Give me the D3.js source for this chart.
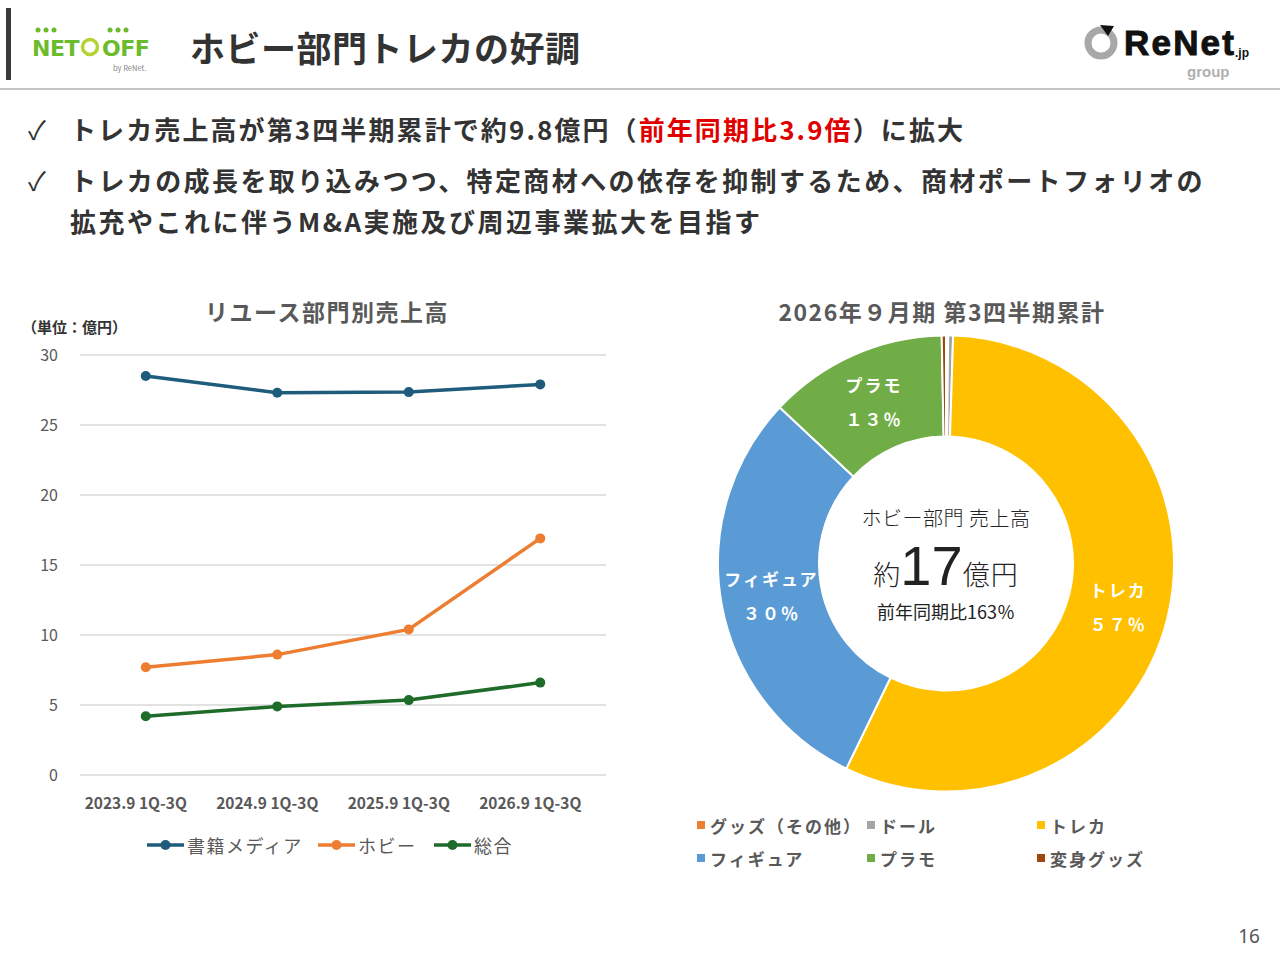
<!DOCTYPE html>
<html>
<head>
<meta charset="utf-8">
<script src="https://cdn.jsdelivr.net/npm/d3@7"></script>
<style>
  body { margin: 0; background: #fff; }
  svg { display: block; font-family: "Noto Sans CJK JP", "Noto Sans", sans-serif; }
</style>
</head>
<body>
<div id="chart"></div>
<script>
// line chart data (億円)
var categories = ["2023.9 1Q-3Q", "2024.9 1Q-3Q", "2025.9 1Q-3Q", "2026.9 1Q-3Q"];
var bookMedia = [28.5, 27.3, 27.35, 27.9];
var hobby = [7.7, 8.6, 10.4, 16.9];
var total = [4.2, 4.9, 5.35, 6.6];
var seriesNames = ["書籍メディア", "ホビー", "総合"];
var yTicks = [0, 5, 10, 15, 20, 25, 30];

// donut data (%)
var pieLabels = ["グッズ（その他）", "ドール", "トレカ", "フィギュア", "プラモ", "変身グッズ"];
var pieValues = [0.15, 0.35, 56.7, 29.8, 12.7, 0.3];

var lineColors = ["#1f5c7c", "#ed7d31", "#1e6b2a"];
var pieColors = ["#ed7d31", "#a5a5a5", "#ffc000", "#5b9bd5", "#70ad47", "#9e480e"];

var svg = d3.select("#chart").append("svg")
  .attr("width", 1280)
  .attr("height", 960);

/** header **/
svg.append("rect").attr("x", 6).attr("y", 8).attr("width", 5).attr("height", 72).attr("fill", "#3a3a3a");
svg.append("line").attr("x1", 0).attr("x2", 1280).attr("y1", 89).attr("y2", 89)
  .attr("stroke", "#b0b0b0").attr("stroke-width", 1.5);

// NET OFF logo (rough)
var logo = svg.append("g");
logo.append("text").attr("x", 32).attr("y", 56).text("NET")
  .attr("font-size", 22).attr("font-weight", 900).attr("fill", "#6cbb2d")
  .attr("font-family", "'DejaVu Sans', sans-serif").attr("letter-spacing", -0.5);
logo.append("circle").attr("cx", 90).attr("cy", 47).attr("r", 7.5)
  .attr("fill", "none").attr("stroke", "#b5d334").attr("stroke-width", 3.5);
logo.append("text").attr("x", 102).attr("y", 56).text("OFF")
  .attr("font-size", 22).attr("font-weight", 900).attr("fill", "#6cbb2d")
  .attr("font-family", "'DejaVu Sans', sans-serif").attr("letter-spacing", -0.5);
[38, 46, 54, 110, 118, 126].forEach(function(x) {
  logo.append("circle").attr("cx", x).attr("cy", 30).attr("r", 2.5).attr("fill", "#6cbb2d");
});
logo.append("text").attr("x", 113).attr("y", 71).text("by ReNet.")
  .attr("font-size", 7.5).attr("fill", "#888");

svg.append("text").attr("x", 190).attr("y", 46).attr("dominant-baseline", "central")
  .attr("font-size", 35).attr("font-weight", 700).attr("fill", "#333")
  .attr("letter-spacing", 0.5)
  .text("ホビー部門トレカの好調");

// ReNet logo (rough)
var rn = svg.append("g");
rn.append("circle").attr("cx", 1101).attr("cy", 43).attr("r", 13)
  .attr("fill", "none").attr("stroke", "#a8a8a8").attr("stroke-width", 7);
rn.append("path").attr("d", "M1100,25 L1114,26 L1108,36 Z").attr("fill", "#111");
rn.append("text").attr("x", 1124).attr("y", 55).text("ReNet")
  .attr("font-size", 35).attr("font-weight", 700).attr("fill", "#111")
  .attr("font-family", "'Liberation Sans', sans-serif").attr("letter-spacing", 2.2)
  .attr("stroke", "#111").attr("stroke-width", 1);
rn.append("text").attr("x", 1235).attr("y", 57).text(".jp")
  .attr("font-size", 12).attr("font-weight", 700).attr("fill", "#111")
  .attr("font-family", "'Liberation Sans', sans-serif");
rn.append("text").attr("x", 1187).attr("y", 77).text("group")
  .attr("font-size", 15).attr("font-weight", 700).attr("fill", "#b0b0b0")
  .attr("font-family", "'Liberation Sans', sans-serif");

/** bullets **/
var bullets = svg.append("g").attr("font-size", 26).attr("font-weight", 700).attr("fill", "#333");
bullets.append("text").attr("x", 28).attr("y", 128).attr("dominant-baseline", "central")
  .attr("font-weight", 400).text("✓");
bullets.append("text").attr("x", 28).attr("y", 179).attr("dominant-baseline", "central")
  .attr("font-weight", 400).text("✓");
var b1 = bullets.append("text").attr("x", 70).attr("y", 128).attr("dominant-baseline", "central")
  .attr("letter-spacing", 2.1);
b1.append("tspan").text("トレカ売上高が第3四半期累計で約9.8億円（");
b1.append("tspan").attr("fill", "#e00000").text("前年同期比3.9倍");
b1.append("tspan").text("）に拡大");
bullets.append("text").attr("x", 70).attr("y", 179).attr("dominant-baseline", "central")
  .attr("letter-spacing", 2.4)
  .text("トレカの成長を取り込みつつ、特定商材への依存を抑制するため、商材ポートフォリオの");
bullets.append("text").attr("x", 70).attr("y", 220).attr("dominant-baseline", "central")
  .attr("letter-spacing", 2.5)
  .text("拡充やこれに伴うM&A実施及び周辺事業拡大を目指す");

/** line chart **/
var lc = svg.append("g");
lc.append("text").attr("x", 327).attr("y", 311).attr("dominant-baseline", "central")
  .attr("text-anchor", "middle").attr("font-size", 23).attr("font-weight", 700)
  .attr("fill", "#595959").attr("letter-spacing", 1.5).text("リユース部門別売上高");
lc.append("text").attr("x", 22).attr("y", 326).attr("dominant-baseline", "central")
  .attr("font-size", 15).attr("font-weight", 700).attr("fill", "#333").text("（単位：億円）");

var x = d3.scaleBand().domain(categories).range([80, 606]);
var y = d3.scaleLinear().domain([0, 30]).range([775, 355]);

lc.append("g").selectAll("line").data(yTicks).enter().append("line")
  .attr("x1", 80).attr("x2", 606)
  .attr("y1", function(d) { return y(d); }).attr("y2", function(d) { return y(d); })
  .attr("stroke", "#d9d9d9").attr("stroke-width", 1.3);

var yAxis = lc.append("g").attr("transform", "translate(62,0)")
  .call(d3.axisLeft(y).tickValues(yTicks).tickSize(0).tickPadding(4));
yAxis.select(".domain").remove();
yAxis.selectAll("text").attr("font-size", 16).attr("fill", "#595959")
  .attr("font-family", "'Noto Sans CJK JP', sans-serif");

var xAxis = lc.append("g").attr("transform", "translate(0,804)")
  .call(d3.axisBottom(x).tickSize(0).tickPadding(0));
xAxis.select(".domain").remove();
xAxis.selectAll("text").attr("font-size", 15.5).attr("font-weight", 700).attr("fill", "#595959")
  .attr("dy", "0.35em").attr("dx", -10)
  .attr("font-family", "'Noto Sans CJK JP', sans-serif");

var allSeries = [bookMedia, hobby, total];
var line = d3.line()
  .x(function(d, i) { return x(categories[i]) + x.bandwidth() / 2; })
  .y(function(d) { return y(d); });

allSeries.forEach(function(vals, s) {
  var g = lc.append("g");
  g.append("path").datum(vals).attr("d", line).attr("fill", "none")
    .attr("stroke", lineColors[s]).attr("stroke-width", 3.5);
  g.selectAll("circle").data(vals).enter().append("circle")
    .attr("cx", function(d, i) { return x(categories[i]) + x.bandwidth() / 2; })
    .attr("cy", function(d) { return y(d); })
    .attr("r", 5).attr("fill", lineColors[s]);
});

// legend
var legX = [147, 318, 434];
var leg = lc.append("g").selectAll("g").data(seriesNames).enter().append("g")
  .attr("transform", function(d, i) { return "translate(" + legX[i] + ",845)"; });
leg.append("line").attr("x1", 0).attr("x2", 37).attr("y1", 0).attr("y2", 0)
  .attr("stroke", function(d, i) { return lineColors[i]; }).attr("stroke-width", 3.5);
leg.append("circle").attr("cx", 18.5).attr("cy", 0).attr("r", 5)
  .attr("fill", function(d, i) { return lineColors[i]; });
leg.append("text").attr("x", 40).attr("y", 0).attr("dominant-baseline", "central")
  .attr("font-size", 18).attr("fill", "#595959").attr("letter-spacing", 1.5)
  .text(function(d) { return d; });

/** donut **/
var pc = svg.append("g");
pc.append("text").attr("x", 942).attr("y", 311).attr("dominant-baseline", "central")
  .attr("text-anchor", "middle").attr("font-size", 23).attr("font-weight", 700)
  .attr("fill", "#595959").attr("letter-spacing", 1.5).text("2026年９月期 第3四半期累計");

var cx = 946, cy = 563.5, outerR = 228, innerR = 127;
var pieData = pieLabels.map(function(d, i) { return { label: d, value: pieValues[i], color: pieColors[i] }; });
var pie = d3.pie().sort(null).value(function(d) { return d.value; });
var arc = d3.arc().innerRadius(innerR).outerRadius(outerR);

var donut = pc.append("g").attr("transform", "translate(" + cx + "," + cy + ")");
donut.selectAll("path").data(pie(pieData)).enter().append("path")
  .attr("d", arc).attr("fill", function(d) { return d.data.color; })
  .attr("stroke", "#fff").attr("stroke-width", 2);

function fullWidth(s) {
  return String(s).replace(/[0-9]/g, function(c) { return String.fromCharCode(c.charCodeAt(0) + 0xFEE0); });
}

var labels = donut.selectAll("g.lbl").data(pie(pieData).filter(function(d) { return d.data.value > 5; }))
  .enter().append("g").attr("class", "lbl")
  .attr("transform", function(d) { return "translate(" + arc.centroid(d) + ")"; });
labels.append("text").attr("y", -17).attr("text-anchor", "middle").attr("dominant-baseline", "central")
  .attr("font-size", 17).attr("font-weight", 700).attr("fill", "#fff").attr("letter-spacing", 2)
  .text(function(d) { return d.data.label; });
labels.append("text").attr("y", 17).attr("text-anchor", "middle").attr("dominant-baseline", "central")
  .attr("font-size", 17).attr("font-weight", 700).attr("fill", "#fff").attr("letter-spacing", 2)
  .text(function(d) { return fullWidth(Math.round(d.data.value)) + "％"; });

// center text
var ct = pc.append("g").attr("fill", "#222").attr("text-anchor", "middle");
ct.append("text").attr("x", cx).attr("y", 517).attr("dominant-baseline", "central")
  .attr("font-size", 20).attr("font-weight", 300).attr("letter-spacing", 0.5).text("ホビー部門 売上高");
var big = ct.append("text").attr("x", cx).attr("y", 585).attr("font-weight", 300);
big.append("tspan").attr("font-size", 27).text("約");
big.append("tspan").attr("font-size", 56).attr("font-family", "'Liberation Sans', sans-serif").text("17");
big.append("tspan").attr("font-size", 27).attr("letter-spacing", 1).text("億円");
ct.append("text").attr("x", cx).attr("y", 611).attr("dominant-baseline", "central")
  .attr("font-size", 18).attr("font-weight", 400).text("前年同期比163％");

// legend
var pLegX = [697, 867, 1037];
var pLegY = [825, 858];
var pleg = pc.append("g").selectAll("g").data(pieData).enter().append("g")
  .attr("transform", function(d, i) { return "translate(" + pLegX[i % 3] + "," + pLegY[Math.floor(i / 3)] + ")"; });
pleg.append("rect").attr("x", 0).attr("y", -4).attr("width", 8).attr("height", 8)
  .attr("fill", function(d) { return d.color; });
pleg.append("text").attr("x", 13).attr("y", 0).attr("dominant-baseline", "central")
  .attr("font-size", 17).attr("font-weight", 700).attr("fill", "#595959").attr("letter-spacing", 2)
  .text(function(d) { return d.label; });

// page number
svg.append("text").attr("x", 1260).attr("y", 936).attr("dominant-baseline", "central")
  .attr("text-anchor", "end").attr("font-size", 19).attr("fill", "#555")
  .attr("font-family", "'Noto Sans', sans-serif").text("16");
</script>
</body>
</html>
